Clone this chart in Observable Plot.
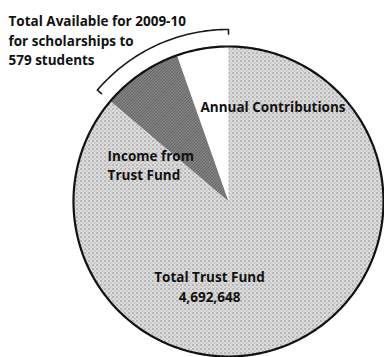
<!DOCTYPE html>
<html>
<head>
<meta charset="utf-8">
<script src="https://cdn.jsdelivr.net/npm/d3@7"></script>
<script src="https://cdn.jsdelivr.net/npm/@observablehq/plot@0.6"></script>
<style>
  html, body { margin: 0; padding: 0; background: #fff; }
  #chart svg { display: block; }
</style>
</head>
<body>
<div id="chart"></div>
<script>
// ---- data ----
const slices = ["Annual Contributions", "Income from Trust Fund", "Total Trust Fund"];
const amounts = [294000, 457000, 4692648];
const sliceLabels = ["Annual Contributions", "Income from\nTrust Fund", "Total Trust Fund\n4,692,648"];
const bracketLabel = "Total Available for 2009-10\nfor scholarships to\n579 students";

// ---- geometry from data ----
const pie = d3.pie().sort(null).startAngle(0).endAngle(-2 * Math.PI).value(d => d.amount);
const arcs = pie(slices.map((name, i) => ({name, amount: amounts[i], label: sliceLabels[i]})));
const polar = (a, r) => [r * Math.sin(a), -r * Math.cos(a)];
const N = 180;

const wedgePts = [];
arcs.forEach(s => {
  wedgePts.push({name: s.data.name, p: [0, 0]});
  const n = Math.max(2, Math.ceil(Math.abs(s.endAngle - s.startAngle) / (2 * Math.PI) * N));
  for (let k = 0; k <= n; k++) {
    const a = s.startAngle + (s.endAngle - s.startAngle) * k / n;
    wedgePts.push({name: s.data.name, p: polar(a, 1)});
  }
  wedgePts.push({name: s.data.name, p: [0, 0]});
});

const rim = d3.range(N * 2 + 1).map(k => polar(2 * Math.PI * k / (N * 2), 1));

// bracket around the "total available" slices (contributions + income)
const bStart = arcs[0].startAngle, bEnd = arcs[1].endAngle;
const bracket = [polar(bEnd, 1.075)];
for (let k = 0; k <= 40; k++) bracket.push(polar(bEnd + (bStart - bEnd) * k / 40, 1.11));
bracket.push(polar(bStart, 1.08));

const fills = {
  "Annual Contributions": "#ffffff",
  "Income from Trust Fund": "url(#patDark)",
  "Total Trust Fund": "url(#patLight)"
};

// label anchors derived from slice angles
const labelPos = [
  {t: sliceLabels[0], p: polar(arcs[0].endAngle, 0.62)},
  {t: sliceLabels[1], p: polar(arcs[1].endAngle, 0.6)},
  {t: sliceLabels[2], p: polar(-Math.PI, 0.55)}
];

const font = "'Open Sans', Lato, sans-serif";
const fs = 13.5;

const plot = Plot.plot({
  width: 384,
  height: 357,
  margin: 0,
  x: {domain: [-1, 1], range: [73, 383], axis: null},
  y: {domain: [-1, 1], range: [46, 356], axis: null},
  color: {type: "identity"},
  style: {background: "#fff", fontFamily: font},
  marks: [
    Plot.line(wedgePts, {x: d => d.p[0], y: d => d.p[1], z: "name", fill: d => fills[d.name], stroke: "none", curve: "linear"}),
    Plot.line(rim, {x: d => d[0], y: d => d[1], stroke: "#111", strokeWidth: 2.2}),
    Plot.line(bracket, {x: d => d[0], y: d => d[1], stroke: "#1a1a1a", strokeWidth: 1.6}),
    Plot.text([labelPos[0]], {x: d => d.p[0], y: d => d.p[1], text: "t", textAnchor: "start",
      fontSize: fs, fontWeight: "bold", fill: "#111", dx: 4, dy: -3}),
    Plot.text([labelPos[1]], {x: d => d.p[0], y: d => d.p[1], text: "t", textAnchor: "start", lineHeight: 1.42,
      fontSize: fs, fontWeight: "bold", fill: "#111", dx: -50, dy: 23}),
    Plot.text([labelPos[2]], {x: d => d.p[0], y: d => d.p[1], text: "t", textAnchor: "middle", lineHeight: 1.48,
      fontSize: fs, fontWeight: "bold", fill: "#111", dx: -19, dy: -1}),
    Plot.text([bracketLabel], {frameAnchor: "top-left", text: d => d, textAnchor: "start", lineAnchor: "top",
      lineHeight: 1.44, dx: 8, dy: 12, fontSize: fs, fontWeight: "bold", fill: "#111"})
  ]
});

// texture patterns
const svg = d3.select(plot);
const defs = svg.insert("defs", ":first-child");
const pl = defs.append("pattern").attr("id", "patLight").attr("patternUnits", "userSpaceOnUse").attr("width", 4).attr("height", 4);
pl.append("rect").attr("width", 4).attr("height", 4).attr("fill", "#dcdcdc");
pl.append("rect").attr("x", 0).attr("y", 0).attr("width", 1).attr("height", 1).attr("fill", "#444");
pl.append("rect").attr("x", 2).attr("y", 2).attr("width", 1).attr("height", 1).attr("fill", "#999");
const pd = defs.append("pattern").attr("id", "patDark").attr("patternUnits", "userSpaceOnUse").attr("width", 3).attr("height", 3);
pd.append("rect").attr("width", 3).attr("height", 3).attr("fill", "#999");
pd.append("path").attr("d", "M0,3 L3,0").attr("stroke", "#333").attr("stroke-width", 1);

document.getElementById("chart").appendChild(plot);
</script>
</body>
</html>
